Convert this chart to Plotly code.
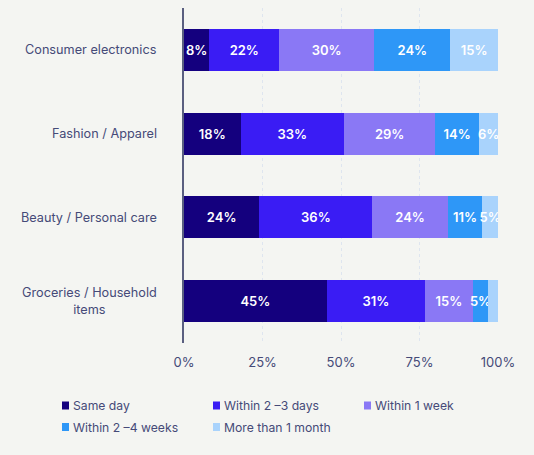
import plotly.graph_objs as go

# Categories (top to bottom) and share of respondents per delivery window
categories = ["Consumer electronics", "Fashion / Apparel", "Beauty / Personal care", "Groceries / Household<br>items"]
series_names = ["Same day", "Within 2 \u20133 days", "Within 1 week", "Within 2 \u20134 weeks", "More than 1 month"]
same_day = [8, 18, 24, 45]
within_2_3_days = [22, 33, 36, 31]
within_1_week = [30, 29, 24, 15]
within_2_4_weeks = [24, 14, 11, 5]
more_than_1_month = [15, 6, 5, 3]
tick_vals = [0, 25, 50, 75, 100]
tick_text = ["0%", "25%", "50%", "75%", "100%"]

colors = ["#14007E", "#3A1CF4", "#8A78F5", "#2E97F7", "#A9D3FC"]
all_values = [same_day, within_2_3_days, within_1_week, within_2_4_weeks, more_than_1_month]

text_color = "#454A78"
font_family = "Inter, Noto Sans, sans-serif"
bg = "#F4F5F2"

# page body has an 8px margin, so the figure is a bit smaller than the window
W, H = 526, 447
L, R, T, B = 176, 36, 0, 112
plot_w = W - L - R
plot_h = H - T - B

fig = go.Figure()
for name, vals, col in zip(series_names, all_values, colors):
    # the tiny last grocery segment carries no label in the reference
    labels = [f"{v}%" if v >= 5 else "" for v in vals]
    fig.add_trace(go.Bar(
        y=categories,
        x=vals,
        name=name,
        orientation="h",
        marker=dict(color=col, line=dict(width=0)),
        text=labels,
        textposition="inside",
        insidetextanchor="middle",
        textangle=0,
        textfont=dict(color="white", size=13, family=font_family, weight=600),
        showlegend=False,
    ))

# category labels, centred lines and right anchored
for cat in categories:
    fig.add_annotation(
        x=0, xref="paper", xshift=-25, xanchor="right",
        y=cat, yref="y",
        text=cat, showarrow=False, align="center",
        font=dict(size=12.7, color=text_color, family=font_family),
    )

# hand-made legend: small square + label, 3 columns of 151px
legend_cols = [54, 205, 356]
legend_rows = [397.5, 419]
for i, (name, col) in enumerate(zip(series_names, colors)):
    px = legend_cols[i % 3]
    py = legend_rows[i // 3]
    x0 = (px - L) / plot_w
    x1 = (px + 7 - L) / plot_w
    y0 = (H - B - (py + 4)) / plot_h
    y1 = (H - B - (py - 4)) / plot_h
    fig.add_shape(type="rect", xref="paper", yref="paper",
                  x0=x0, x1=x1, y0=y0, y1=y1,
                  fillcolor=col, line=dict(width=0))
    fig.add_annotation(
        x=(px + 9 - L) / plot_w, xref="paper", xanchor="left",
        y=(H - B - py) / plot_h, yref="paper", yanchor="middle",
        text=name, showarrow=False,
        font=dict(size=12.2, color=text_color, family=font_family),
    )

fig.update_layout(
    barmode="stack",
    barnorm="percent",
    bargap=0.5,
    width=W,
    height=H,
    margin=dict(l=L, r=R, t=T, b=B),
    paper_bgcolor=bg,
    plot_bgcolor="rgba(0,0,0,0)",
    font=dict(family=font_family, color=text_color, size=13),
    uniformtext=dict(minsize=12, mode="show"),
    showlegend=False,
    xaxis=dict(
        range=[0, 100],
        tickvals=tick_vals,
        ticktext=tick_text,
        showgrid=True,
        gridcolor="#DEE5EF",
        griddash="dot",
        gridwidth=1,
        zeroline=False,
        ticks="",
        ticklabelstandoff=10,
        tickfont=dict(size=13, color=text_color),
    ),
    yaxis=dict(
        autorange="reversed",
        showticklabels=False,
        showline=True,
        linecolor="#5A5F80",
        linewidth=1.5,
        ticks="",
    ),
)

# fill the page margin with the same background colour
fig.write_html("out.html", post_script=f"document.body.style.background='{bg}';")
